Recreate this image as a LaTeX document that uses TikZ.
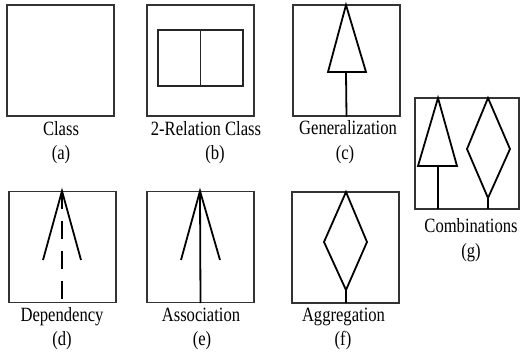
\documentclass[tikz,border=0pt]{standalone}
\usepackage{fontspec}
\setmainfont{Liberation Serif}
\begin{document}
\begin{tikzpicture}[x=1pt,y=-1pt,
  frame/.style={draw=black!80,line width=1.1pt,inner sep=0pt,minimum width=107pt,minimum height=111pt},
  sym/.style={draw=black,line width=1.8pt,line join=miter},
  lbl/.style={font=\fontsize{16.6}{18}\selectfont,yscale=1.22,anchor=base,inner sep=0pt}]
\useasboundingbox (0,0) rectangle (520,352);
% boxes
\node[frame] (a) at (60.5,60.5) {};
\node[frame] (b) at (200.5,60.5) {};
\node[frame] (c) at (346.5,60.5) {};
\node[frame] (d) at (62.5,247) {};
\node[frame] (e) at (200.5,247) {};
\node[frame] (f) at (345.5,247.5) {};
\node[frame,minimum width=104pt] (g) at (467,153.5) {};
% (b) inner
\node[draw=black!85,line width=1.2pt,inner sep=0pt,minimum width=85pt,minimum height=56pt] (bin) at (200.5,58) {};
\draw[draw=black!85,line width=1.2pt] (bin.north) -- (bin.south);
% (c) generalization
\coordinate (ctop) at (346,5);
\draw[sym] (ctop) -- (366,72) -- (328,72) -- cycle;
\draw[sym] (346,72) -- (c.south);
% (d) dependency
\coordinate (dtop) at (62,191);
\draw[sym] (43,260) -- (dtop) -- (81,260);
\draw[sym,dash pattern=on 18pt off 12pt] (dtop) -- (62,299);
% (e) association
\coordinate (etop) at (200,191);
\draw[sym] (181,260) -- (etop) -- (220,260);
\draw[sym] (etop) -- (e.south);
% (f) aggregation
\coordinate (fbot) at (346,290);
\draw[sym] (346,192) -- (367,242) -- (fbot) -- (324,242) -- cycle;
\draw[sym] (fbot) -- (346,303);
% (g) combinations
\draw[sym] (438,98) -- (457,166) -- (418,166) -- cycle;
\draw[sym] (438,166) -- (438,209);
\draw[sym] (488,98) -- (510,149) -- (488,198) -- (467,149) -- cycle;
\draw[sym] (488,198) -- (488,209);
% labels
\node[lbl] (la) at (61,136) {Class};
\node[lbl] (pa) at (61,160) {(a)};
\node[lbl] (lb) at (206,136) {2-Relation Class};
\node[lbl] (pb) at (215,160) {(b)};
\node[lbl] (lc) at (348,135) {Generalization};
\node[lbl] (pc) at (345,160) {(c)};
\node[lbl] (ld) at (62,322) {Dependency};
\node[lbl] (pd) at (62,346) {(d)};
\node[lbl] (le) at (201,322) {Association};
\node[lbl] (pe) at (202,346) {(e)};
\node[lbl] (lf) at (343.5,322) {Aggregation};
\node[lbl] (pf) at (343,346) {(f)};
\node[lbl] (lg) at (471,233) {Combinations};
\node[lbl] (pg) at (471,258) {(g)};
\end{tikzpicture}
\end{document}
